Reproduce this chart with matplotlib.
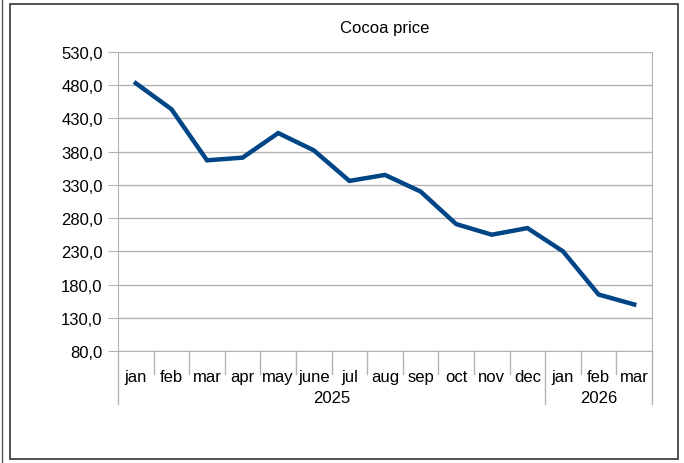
import matplotlib
matplotlib.use("Agg")
import matplotlib.pyplot as plt
from matplotlib.patches import Rectangle
from matplotlib.lines import Line2D

plt.rcParams['font.family'] = ['Liberation Sans', 'DejaVu Sans']

# data
months = ["jan", "feb", "mar", "apr", "may", "june", "jul", "aug", "sep",
          "oct", "nov", "dec", "jan", "feb", "mar"]
years = ["2025", "2026"]
year_counts = [12, 3]
price = [483, 444, 367, 371, 408, 382, 336, 345, 320, 271, 255, 265, 230, 165, 150]
yticks = [80, 130, 180, 230, 280, 330, 380, 430, 480, 530]

W, H = 684, 464
fig = plt.figure(figsize=(W / 100, H / 100), dpi=100)
grey = "#b3b3b3"

# plot area in pixels
L, R, T, B = 118, 652, 53, 352
ax = fig.add_axes([L / W, 1 - B / H, (R - L) / W, (B - T) / H])

x = list(range(len(months)))
ax.plot(x, price, color="#004586", lw=3.2, solid_joinstyle="miter", zorder=3)
ax.set_xlim(-0.5, len(months) - 0.5)
ax.set_ylim(yticks[0], yticks[-1])
ax.set_yticks(yticks)
ax.set_yticklabels([f"{v:.1f}".replace(".", ",") for v in yticks], fontsize=12)
ax.yaxis.grid(True, color=grey, lw=1)
ax.tick_params(axis="y", length=7, color=grey, pad=4)
ax.set_xticks([])
for s in ax.spines.values():
    s.set_color(grey)
ax.spines["top"].set_visible(False)

# category axis: month separators, month labels, year groups
tr = ax.get_xaxis_transform()
bounds = [-0.5]
for c in year_counts:
    bounds.append(bounds[-1] + c)
for i in range(1, len(months)):
    xb = i - 0.5
    long = xb in bounds
    ax.add_line(Line2D([xb, xb], [0, -53 / (B - T) if long else -23 / (B - T)],
                       transform=tr, color=grey, lw=1, clip_on=False))
for xb in (bounds[0], bounds[-1]):
    ax.add_line(Line2D([xb, xb], [0, -53 / (B - T)], transform=tr,
                       color=grey, lw=1, clip_on=False))
for i, m in enumerate(months):
    ax.text(i, -26 / (B - T), m, transform=tr, ha="center", va="center", fontsize=12)
for k, yr in enumerate(years):
    ax.text((bounds[k] + bounds[k + 1]) / 2, -47 / (B - T), yr, transform=tr,
            ha="center", va="center", fontsize=12)

fig.text((L + R) / 2 / W, 1 - 28 / H, "Cocoa price", ha="center", va="center", fontsize=12)

# outer frame
fig.patches.append(Rectangle((10 / W, 1 - 460 / H), 668 / W, 455 / H,
                             transform=fig.transFigure, fill=False,
                             edgecolor="#333333", lw=1.2))
fig.lines.append(Line2D([1.5 / W, 1.5 / W], [0, 1], transform=fig.transFigure,
                        color="#555555", lw=1))

fig.savefig("out.png", dpi=100)
